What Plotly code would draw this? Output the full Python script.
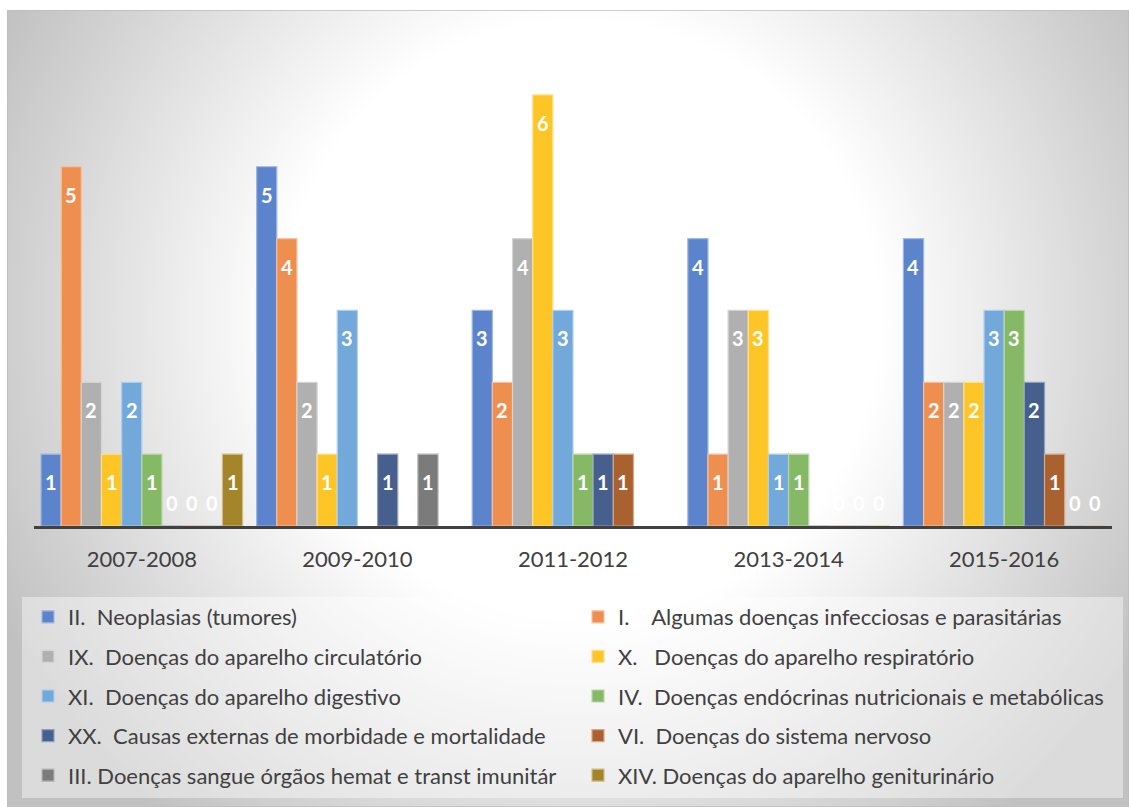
import base64
import plotly.graph_objects as go

# Periods on the category axis
periods = ["2007-2008", "2009-2010", "2011-2012", "2013-2014", "2015-2016"]

# Disease chapters (ICD) and counts per period; None = no record in that period
s_II = [1, 5, 3, 4, 4]
s_I = [5, 4, 2, 1, 2]
s_IX = [2, 2, 4, 3, 2]
s_X = [1, 1, 6, 3, 2]
s_XI = [2, 3, 3, 1, 3]
s_IV = [1, None, 1, 1, 3]
s_XX = [0, 1, 1, 0, 2]
s_VI = [0, None, 1, 0, 1]
s_III = [0, 1, None, 0, 0]
s_XIV = [1, None, None, 0, 0]

NB = "\u00a0"
names = [
    f"II.{NB} Neoplasias (tumores)",
    f"I.{NB}{NB}  Algumas doenças infecciosas e parasitárias",
    f"IX.{NB} Doenças do aparelho circulatório",
    f"X.{NB}{NB} Doenças do aparelho respiratório",
    f"XI.{NB} Doenças do aparelho digestivo",
    f"IV.{NB} Doenças endócrinas nutricionais e metabólicas",
    f"XX.{NB} Causas externas de morbidade e mortalidade",
    f"VI.{NB} Doenças do sistema nervoso",
    "III. Doenças sangue órgãos hemat e transt imunitár",
    "XIV. Doenças do aparelho geniturinário",
]
series = [s_II, s_I, s_IX, s_X, s_XI, s_IV, s_XX, s_VI, s_III, s_XIV]
colors = ["#5b84cc", "#ee8f4f", "#b0b0b0", "#fdc526", "#72a8da",
          "#86b966", "#465f8c", "#a9612f", "#7b7b7b", "#a5852a"]
edges = ["#9fb6e3", "#f6c1a0", "#d4d4d4", "#fee08f", "#b0cfec",
         "#bbd8a8", "#8e9fbf", "#d4a889", "#b4b4b4", "#d0bd86"]

W, H = 1129, 807
L, R, T, B = 34, 17, 59, 281
BARGAP = 0.065
FONT = "Lato, 'Open Sans', sans-serif"


def px_x(px):
    return (px - L) / (W - L - R)


def px_y(py):
    return (H - B - py) / (H - T - B)


fig = go.Figure()
xs = list(range(len(periods)))
for k, (nm, vals) in enumerate(zip(names, series)):
    fig.add_trace(go.Bar(
        x=xs, y=vals, name=nm,
        marker=dict(color=colors[k], line=dict(color=edges[k], width=1.2)),
        legend="legend" if k % 2 == 0 else "legend2",
        legendgroup=f"g{k}",
        hoverinfo="skip",
    ))

# Value labels placed near the top end of each bar
n = len(series)
bw = (1 - BARGAP) / n
annotations = []
for k, vals in enumerate(series):
    off = -(1 - BARGAP) / 2 + (k + 0.5) * bw
    for i, v in enumerate(vals):
        if v is None:
            continue
        annotations.append(dict(
            x=i + off, y=v, xref="x", yref="y", text=str(v), showarrow=False,
            yshift=-28 if v > 0 else 23,
            font=dict(family=FONT, size=20, color="white", weight="bold"),
        ))

# Radial grey-to-white chart area fill
svg = (
    '<svg xmlns="http://www.w3.org/2000/svg" width="1122" height="797" '
    'viewBox="0 0 1122 797" preserveAspectRatio="none">'
    '<defs><radialGradient id="g" gradientUnits="userSpaceOnUse" '
    'cx="573" cy="310" r="650">'
    '<stop offset="0" stop-color="#ffffff"/>'
    '<stop offset="0.46" stop-color="#ffffff"/>'
    '<stop offset="1" stop-color="#c1c1c1"/>'
    '</radialGradient></defs>'
    '<rect x="0" y="0" width="1122" height="797" fill="url(#g)" '
    'stroke="#bdbdbd" stroke-width="1.5"/></svg>'
)
src = "data:image/svg+xml;base64," + base64.b64encode(svg.encode()).decode()

legend_common = dict(
    xref="paper", yref="paper", y=px_y(596),
    xanchor="left", yanchor="top", orientation="v",
    bgcolor="rgba(0,0,0,0)", tracegroupgap=8,
    font=dict(family=FONT, size=22, color="#404040"),
    traceorder="grouped", itemwidth=30,
)

fig.update_layout(
    width=W, height=H,
    margin=dict(l=L, r=R, t=T, b=B, autoexpand=False),
    paper_bgcolor="white",
    plot_bgcolor="rgba(0,0,0,0)",
    barmode="group", bargap=BARGAP, bargroupgap=0,
    font=dict(family=FONT, color="#404040"),
    images=[dict(
        source=src, xref="paper", yref="paper",
        x=px_x(7), y=px_y(10), sizex=px_x(1129) - px_x(7),
        sizey=px_y(10) - px_y(807), xanchor="left", yanchor="top",
        sizing="stretch", layer="below",
    )],
    shapes=[dict(
        type="rect", xref="paper", yref="paper", layer="below",
        x0=px_x(22), x1=px_x(1123), y0=px_y(597), y1=px_y(798),
        fillcolor="rgba(255,255,255,0.42)", line=dict(width=0),
    )],
    annotations=annotations,
    xaxis=dict(
        range=[-0.5, len(periods) - 0.5],
        tickvals=xs, ticktext=periods,
        showline=True, linecolor="#404040", linewidth=2.5,
        ticks="outside", ticklen=12, tickcolor="rgba(0,0,0,0)",
        tickfont=dict(family=FONT, size=22, color="#404040"),
        showgrid=False, zeroline=False, fixedrange=True,
    ),
    yaxis=dict(
        range=[0, 6.5], visible=False, showgrid=False, zeroline=False,
    ),
    legend=dict(x=px_x(28), **legend_common),
    legend2=dict(x=px_x(578), **legend_common),
)

fig.write_html("out.html")
